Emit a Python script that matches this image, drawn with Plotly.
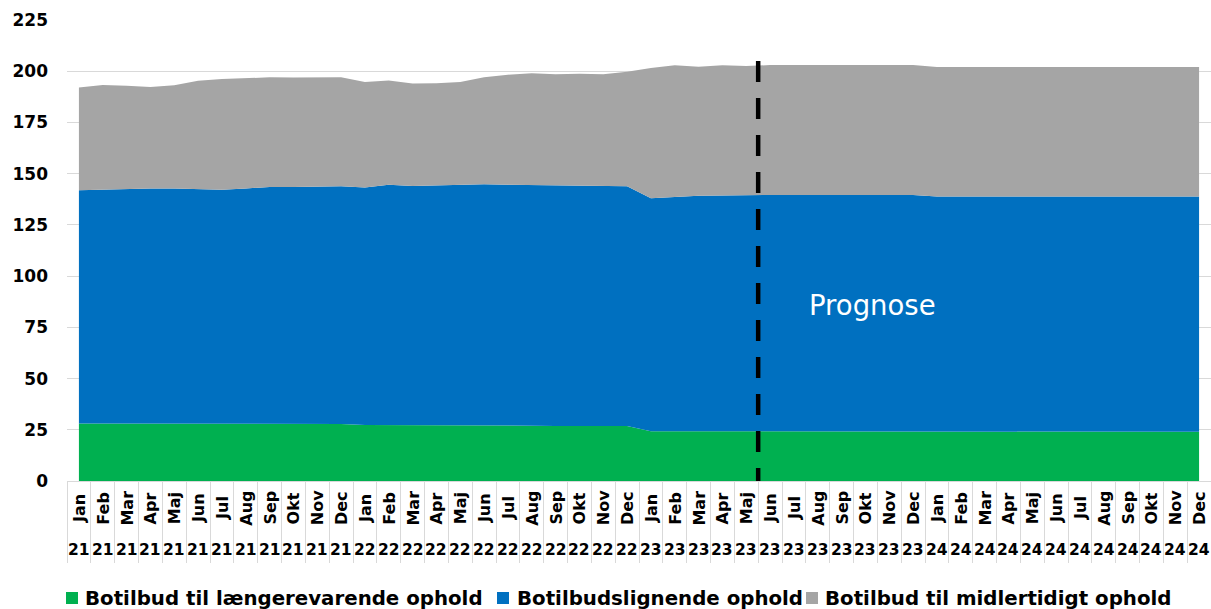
import plotly.graph_objects as go

# ---------------- data ----------------
months = ["Jan", "Feb", "Mar", "Apr", "Maj", "Jun", "Jul", "Aug", "Sep", "Okt", "Nov", "Dec"]
years = ["21", "22", "23", "24"]
month_labels = [m for y in years for m in months]
year_labels = [y for y in years for m in months]
categories = [f"{m} {y}" for m, y in zip(month_labels, year_labels)]

series_names = [
    "Botilbud til længerevarende ophold",
    "Botilbudslignende ophold",
    "Botilbud til midlertidigt ophold",
]

laengerevarende = [
    28.1, 28.1, 28.1, 28.1, 28.1, 28.1, 28.1, 28.1, 28.1, 28.1, 28.0, 27.8,
    27.3, 27.3, 27.3, 27.3, 27.3, 27.2, 27.3, 27.0, 26.8, 26.8, 26.8, 26.8,
    24.3, 24.3, 24.2, 24.2, 24.1, 24.0, 24.0, 24.0, 24.0, 24.0, 24.0, 24.0,
    24.0, 24.0, 24.0, 24.0, 24.0, 24.0, 24.0, 24.0, 24.0, 24.0, 24.0, 24.0,
]
botilbudslignende = [
    113.8, 114.1, 114.6, 114.6, 114.6, 114.3, 114.1, 114.7, 115.4, 115.4, 115.8, 116.0,
    115.9, 117.3, 116.7, 117.0, 117.3, 117.6, 117.3, 117.5, 117.3, 117.3, 117.2, 117.0,
    113.7, 114.3, 115.0, 115.2, 115.5, 115.6, 115.6, 115.6, 115.6, 115.6, 115.6, 115.6,
    114.9, 114.9, 114.9, 114.9, 114.9, 114.9, 114.9, 114.9, 114.9, 114.9, 114.9, 114.9,
]
midlertidigt = [
    50.2, 51.1, 50.2, 49.6, 50.4, 53.0, 54.0, 53.7, 53.5, 53.4, 53.3, 53.3,
    51.5, 50.9, 50.0, 49.8, 50.1, 52.2, 53.7, 54.5, 54.4, 54.7, 54.5, 56.0,
    63.6, 64.3, 63.0, 63.5, 62.9, 63.4, 63.4, 63.4, 63.4, 63.4, 63.4, 63.4,
    63.1, 63.1, 63.1, 63.1, 63.1, 63.1, 63.1, 63.1, 63.1, 63.1, 63.1, 63.1,
]

forecast_start = "Jun 23"   # first forecast month
forecast_label = "Prognose"
y_ticks = [0, 25, 50, 75, 100, 125, 150, 175, 200, 225]

# ---------------- style ----------------
colors = ["#00B050", "#0070C0", "#A5A5A5"]
FONT = "DejaVu Sans"
GRID = "#D9D9D9"
W, H = 1211, 609
ML, MR, MT, MB = 67, 0, 20, 128
plot_h = H - MT - MB
plot_w = W - ML - MR


def ypx(px):
    """pixel row -> paper y"""
    return (H - MB - px) / plot_h


def xpx(px):
    """pixel column -> paper x"""
    return (px - ML) / plot_w


fig = go.Figure()
for name, vals, col in zip(series_names, [laengerevarende, botilbudslignende, midlertidigt], colors):
    fig.add_trace(go.Scatter(
        x=categories, y=vals, name=name, stackgroup="one",
        mode="lines", line=dict(width=0, color=col), fillcolor=col,
        showlegend=False,
    ))

annotations = []
for i, (m, y) in enumerate(zip(month_labels, year_labels)):
    annotations.append(dict(
        x=i, xref="x", y=ypx(508), yref="paper", text=m, textangle=-90,
        showarrow=False, xanchor="center", yanchor="middle",
        font=dict(family=FONT, size=16, color="#000000", weight="bold"),
    ))
    annotations.append(dict(
        x=i, xref="x", y=ypx(550), yref="paper", text=y,
        showarrow=False, xanchor="center", yanchor="middle",
        font=dict(family=FONT, size=15.5, color="#000000", weight="bold"),
    ))

fc_idx = categories.index(forecast_start)
annotations.append(dict(
    x=fc_idx + 4.3, xref="x", y=86, yref="y", text=forecast_label,
    showarrow=False, xanchor="center", yanchor="middle",
    font=dict(family=FONT, size=27.5, color="#FFFFFF"),
))

# manual legend (square swatches + text)
legend_items = [(66, 83), (497, 515), (806, 823)]
shapes = []
for (sq_x, tx_x), name, col in zip(legend_items, series_names, colors):
    shapes.append(dict(
        type="rect", xref="paper", yref="paper",
        x0=xpx(sq_x), x1=xpx(sq_x + 12), y0=ypx(604), y1=ypx(592),
        fillcolor=col, line=dict(width=0),
    ))
    annotations.append(dict(
        x=xpx(tx_x), xref="paper", y=ypx(598), yref="paper", text=name,
        showarrow=False, xanchor="left", yanchor="middle",
        font=dict(family=FONT, size=19.8, color="#000000", weight="bold"),
    ))

# forecast divider
shapes.append(dict(
    type="line", xref="x", yref="y",
    x0=fc_idx - 0.5, x1=fc_idx - 0.5, y0=205, y1=-1,
    line=dict(color="#000000", width=4.5, dash="21px,16px"),
    layer="above",
))

fig.update_layout(
    width=W, height=H,
    margin=dict(l=ML, r=MR, t=MT, b=MB),
    paper_bgcolor="#FFFFFF", plot_bgcolor="#FFFFFF",
    showlegend=False,
    annotations=annotations,
    shapes=shapes,
    xaxis=dict(
        type="category", range=[-0.5, len(categories) - 0.5],
        showgrid=False, showticklabels=False,
        ticks="outside", tickson="boundaries", ticklen=81, tickwidth=1, tickcolor=GRID,
        showline=True, linecolor=GRID, linewidth=1,
        zeroline=False, fixedrange=True,
    ),
    yaxis=dict(
        range=[0, 225], tickvals=y_ticks, ticktext=[str(v) for v in y_ticks],
        showgrid=True, gridcolor=GRID, gridwidth=1.3,
        zeroline=False, showline=False, ticks="",
        ticklabelstandoff=18,
        tickfont=dict(family=FONT, size=17, color="#000000", weight="bold"),
        fixedrange=True,
    ),
)

fig.write_html(
    "out.html",
    config={"displayModeBar": False, "staticPlot": False},
    post_script="document.body.style.margin='0';document.body.style.padding='0';"
                "document.body.style.overflow='hidden';",
)
